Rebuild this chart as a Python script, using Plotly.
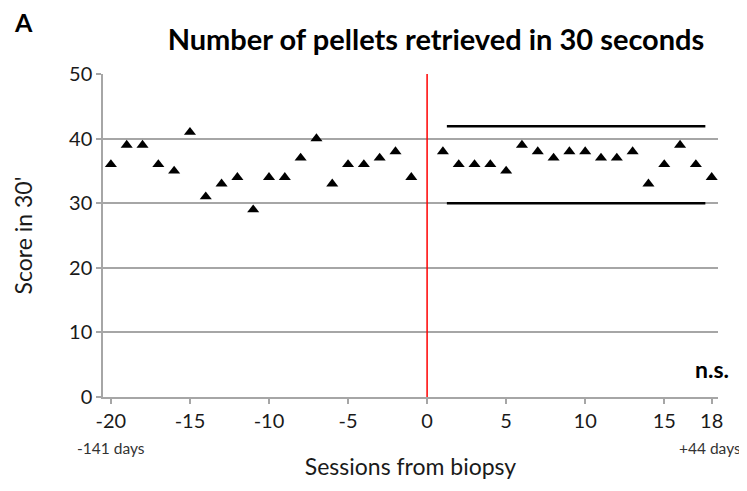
import plotly.graph_objects as go

# Data
pre_sessions = list(range(-20, 0))
pre_scores = [36, 39, 39, 36, 35, 41, 31, 33, 34, 29, 34, 34, 37, 40, 33, 36, 36, 37, 38, 34]
post_sessions = list(range(1, 19))
post_scores = [38, 36, 36, 36, 35, 39, 38, 37, 38, 38, 37, 37, 38, 33, 36, 39, 36, 34]
band_x = [1.25, 17.6]
band_upper = 41.9
band_lower = 30.0
biopsy_session = 0
x_ticks = [-20, -15, -10, -5, 0, 5, 10, 15, 18]
y_ticks = [0, 10, 20, 30, 40, 50]

FONT = "Lato"
GRID = "#a6a6a6"
W, H = 739, 483  # page body adds an 8px offset

fig = go.Figure()

# band lines
for yv in (band_upper, band_lower):
    fig.add_trace(go.Scatter(x=band_x, y=[yv, yv], mode="lines",
                             line=dict(color="black", width=2.5),
                             showlegend=False, hoverinfo="skip"))

# biopsy line
fig.add_trace(go.Scatter(x=[biopsy_session, biopsy_session], y=[0, 50], mode="lines",
                         line=dict(color="#ff0000", width=1.5),
                         showlegend=False, hoverinfo="skip"))

fig.add_trace(go.Scatter(x=pre_sessions + post_sessions, y=pre_scores + post_scores,
                         mode="markers",
                         marker=dict(symbol="triangle-up", size=10.5, color="black"),
                         showlegend=False))

fig.update_layout(
    width=W, height=H,
    margin=dict(l=95, r=29, t=66, b=94),
    paper_bgcolor="white", plot_bgcolor="white",
    font=dict(family=FONT, color="#1a1a1a"),
    title=dict(text="<b>Number of pellets retrieved in 30 seconds</b>",
               x=428/W, xanchor="center", y=1-32/H, yanchor="middle",
               font=dict(size=29, family=FONT, color="black")),
    xaxis=dict(range=[-20.5, 18.4], tickvals=x_ticks, ticktext=[str(v) for v in x_ticks],
               automargin=False,
               showgrid=False, zeroline=False, showline=True, linecolor=GRID, linewidth=1.5,
               ticks="outside", ticklen=5, tickcolor=GRID, tickwidth=1.5,
               tickfont=dict(size=20, family=FONT, color="#1a1a1a"),
               title=dict(text="Sessions from biopsy", standoff=28,
                          font=dict(size=23, family=FONT, color="#1a1a1a"))),
    yaxis=dict(range=[0, 50], tickvals=y_ticks, automargin=False,
               showgrid=True, gridcolor=GRID, gridwidth=1.5, zeroline=False,
               showline=True, linecolor=GRID, linewidth=1.5,
               ticks="outside", ticklen=5, tickcolor=GRID, tickwidth=1.5,
               tickfont=dict(size=20, family=FONT, color="#1a1a1a"),
               title=dict(text="Score in 30'", standoff=30,
                          font=dict(size=23, family=FONT, color="#1a1a1a"))),
    annotations=[
        dict(text="<b>A</b>", xref="paper", yref="paper", x=(4-95)/615, y=1+52/323,
             xanchor="left", yanchor="middle", showarrow=False,
             font=dict(size=25, family=FONT, color="black")),
        dict(text="<b>n.s.</b>", xref="x", yref="paper", x=18, y=28.3/323,
             xanchor="center", yanchor="middle", showarrow=False,
             font=dict(size=23, family=FONT, color="black")),
        dict(text="-141 days", xref="x", yref="paper", x=-20, y=(397.3-448)/323,
             xanchor="center", yanchor="middle", showarrow=False,
             font=dict(size=15.5, family=FONT, color="#333333")),
        dict(text="+44 days", xref="paper", yref="paper", x=(735-95)/615, y=(397.3-448)/323,
             xanchor="right", yanchor="middle", showarrow=False,
             font=dict(size=15.5, family=FONT, color="#333333")),
    ],
)

fig.write_html("out.html")
